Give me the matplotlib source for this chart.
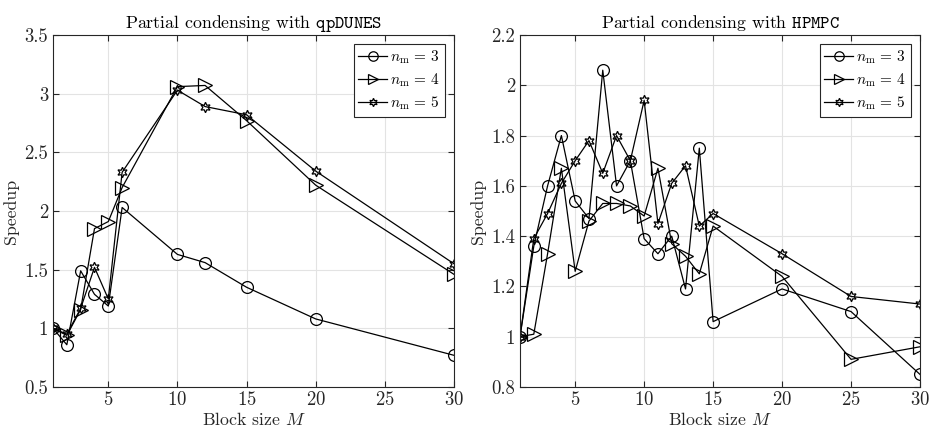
import numpy as np
import matplotlib.pyplot as plt
from matplotlib.ticker import FuncFormatter

plt.rcParams['font.family'] = 'serif'
plt.rcParams['font.serif'] = ['cmr10']
plt.rcParams['mathtext.fontset'] = 'cm'
plt.rcParams['axes.formatter.use_mathtext'] = True

# qpDUNES data
M_qp = [1, 2, 3, 4, 5, 6, 10, 12, 15, 20, 30]
qp_nm3 = [1.0, 0.86, 1.49, 1.29, 1.19, 2.03, 1.63, 1.56, 1.35, 1.08, 0.77]
qp_nm4 = [1.0, 0.94, 1.16, 1.85, 1.91, 2.20, 3.06, 3.07, 2.77, 2.22, 1.46]
qp_nm5 = [1.0, 0.95, 1.17, 1.52, 1.25, 2.33, 3.03, 2.89, 2.82, 2.34, 1.55]

# HPMPC data
M_hp = [1, 2, 3, 4, 5, 6, 7, 8, 9, 10, 11, 12, 13, 14, 15, 20, 25, 30]
hp_nm3 = [1.0, 1.36, 1.60, 1.80, 1.54, 1.47, 2.06, 1.60, 1.70, 1.39, 1.33,
          1.40, 1.19, 1.75, 1.06, 1.19, 1.10, 0.85]
hp_nm4 = [1.0, 1.01, 1.33, 1.67, 1.26, 1.46, 1.53, 1.53, 1.52, 1.48, 1.67,
          1.37, 1.32, 1.25, 1.44, 1.24, 0.91, 0.96]
hp_nm5 = [1.0, 1.39, 1.49, 1.61, 1.70, 1.78, 1.65, 1.80, 1.70, 1.94, 1.45,
          1.61, 1.68, 1.44, 1.49, 1.33, 1.16, 1.13]

labels = [r'$n_\mathrm{m}\,=\,3$', r'$n_\mathrm{m}\,=\,4$', r'$n_\mathrm{m}\,=\,5$']
markers = [('o', 8.5), ('>', 9.5), ((6, 1, 0), 7.5)]

fig = plt.figure(figsize=(9.34, 4.30), dpi=100)
ax1 = fig.add_axes([53/934, 1 - 387/430, 401/934, 352/430])
ax2 = fig.add_axes([520/934, 1 - 387/430, 400/934, 352/430])

fmt = FuncFormatter(lambda v, p: '%g' % v)

def draw(ax, M, series, title, ylim, yticks):
    for s, lab, (m, ms) in zip(series, labels, markers):
        ax.plot(M, s, color='black', lw=0.9, marker=m, ms=ms,
                mfc='none', mec='black', mew=0.9, label=lab)
    ax.set_xlim(1, 30)
    ax.set_ylim(*ylim)
    ax.set_xticks([5, 10, 15, 20, 25, 30])
    ax.set_yticks(yticks)
    ax.yaxis.set_major_formatter(fmt)
    ax.grid(True, color='#e3e3e3', lw=0.8)
    ax.set_axisbelow(True)
    ax.tick_params(direction='in', top=True, right=True, labelsize=13.5,
                   color='#262626', labelcolor='#262626', length=4)
    ax.tick_params(axis='x', pad=3)
    for sp in ax.spines.values():
        sp.set_color('#262626')
        sp.set_linewidth(0.8)
    ax.set_title(title, fontsize=12.8, pad=5)
    ax.set_xlabel(r'Block size $M$', fontsize=12.8, color='#262626',
                  labelpad=1)
    ax.set_ylabel('Speedup', fontsize=12.8, color='#262626')
    leg = ax.legend(loc='upper right', fontsize=11, fancybox=False,
                    framealpha=1, edgecolor='#262626', borderpad=0.3,
                    handlelength=1.9, handletextpad=0.2, labelspacing=0.35,
                    borderaxespad=0.6, markerscale=0.8)
    leg.get_frame().set_linewidth(0.8)

draw(ax1, M_qp, [qp_nm3, qp_nm4, qp_nm5],
     r'Partial condensing with $\mathtt{qpDUNES}$', (0.5, 3.5),
     [0.5, 1, 1.5, 2, 2.5, 3, 3.5])
draw(ax2, M_hp, [hp_nm3, hp_nm4, hp_nm5],
     r'Partial condensing with $\mathtt{HPMPC}$', (0.8, 2.2),
     [0.8, 1, 1.2, 1.4, 1.6, 1.8, 2, 2.2])

fig.savefig('out.png', dpi=100)
